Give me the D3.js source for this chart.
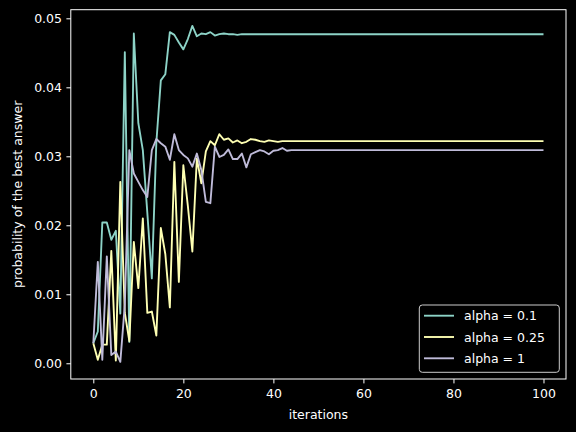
<!DOCTYPE html>
<html>
<head>
	<meta http-equiv="Content-Type" content="text/html;charset=utf-8"/>
	<title>probability of the best answer</title>
	<script src="https://d3js.org/d3.v7.min.js"></script>
	<style type="text/css">
		body { margin: 0; background: black; }
		svg { display: block; background: black; }
		text { font-family: "DejaVu Sans", sans-serif; font-size: 12.5px; fill: white; }
		.spine { stroke: white; stroke-width: 1; fill: none; }
		.tick line { stroke: white; stroke-width: 1; }
		.series { fill: none; stroke-width: 1.875; stroke-linejoin: round; stroke-linecap: butt; }
	</style>
</head>
<body>
	<svg width="576" height="432"></svg>

<script type="text/javascript">
// values, one per iteration 0..100
const alpha01 = [
	0.0029, 0.0046, 0.0204, 0.0204, 0.0179, 0.0192, 0.0072, 0.0451, 0.0031, 0.0478,
	0.0348, 0.0309, 0.0218, 0.0123, 0.0320, 0.0410, 0.0419, 0.0480, 0.0476, 0.0465,
	0.0455, 0.0470, 0.0489, 0.0474, 0.0478, 0.0477, 0.0480, 0.0475, 0.0477, 0.0478,
	0.0477, 0.0477, 0.0476, 0.0477, 0.0477, 0.0477, 0.0477, 0.0477, 0.0477, 0.0477,
	0.0477, 0.0477, 0.0477, 0.0477, 0.0477, 0.0477, 0.0477, 0.0477, 0.0477, 0.0477,
	0.0477, 0.0477, 0.0477, 0.0477, 0.0477, 0.0477, 0.0477, 0.0477, 0.0477, 0.0477,
	0.0477, 0.0477, 0.0477, 0.0477, 0.0477, 0.0477, 0.0477, 0.0477, 0.0477, 0.0477,
	0.0477, 0.0477, 0.0477, 0.0477, 0.0477, 0.0477, 0.0477, 0.0477, 0.0477, 0.0477,
	0.0477, 0.0477, 0.0477, 0.0477, 0.0477, 0.0477, 0.0477, 0.0477, 0.0477, 0.0477,
	0.0477, 0.0477, 0.0477, 0.0477, 0.0477, 0.0477, 0.0477, 0.0477, 0.0477, 0.0477,
	0.0477
];
const alpha025 = [
	0.0029, 0.0005, 0.0027, 0.0027, 0.0163, 0.0004, 0.0263, 0.0073, 0.0032, 0.0176,
	0.0109, 0.0210, 0.0073, 0.0075, 0.0040, 0.0196, 0.0158, 0.0081, 0.0292, 0.0118,
	0.0287, 0.0228, 0.0162, 0.0297, 0.0261, 0.0307, 0.0322, 0.0316, 0.0332, 0.0324,
	0.0326, 0.0320, 0.0323, 0.0319, 0.0321, 0.0325, 0.0324, 0.0322, 0.0321, 0.0323,
	0.0322, 0.0321, 0.0322, 0.0322, 0.0322, 0.0322, 0.0322, 0.0322, 0.0322, 0.0322,
	0.0322, 0.0322, 0.0322, 0.0322, 0.0322, 0.0322, 0.0322, 0.0322, 0.0322, 0.0322,
	0.0322, 0.0322, 0.0322, 0.0322, 0.0322, 0.0322, 0.0322, 0.0322, 0.0322, 0.0322,
	0.0322, 0.0322, 0.0322, 0.0322, 0.0322, 0.0322, 0.0322, 0.0322, 0.0322, 0.0322,
	0.0322, 0.0322, 0.0322, 0.0322, 0.0322, 0.0322, 0.0322, 0.0322, 0.0322, 0.0322,
	0.0322, 0.0322, 0.0322, 0.0322, 0.0322, 0.0322, 0.0322, 0.0322, 0.0322, 0.0322,
	0.0322
];
const alpha1 = [
	0.0029, 0.0147, 0.0005, 0.0155, 0.0012, 0.0017, 0.0002, 0.0085, 0.0309, 0.0275,
	0.0263, 0.0251, 0.0241, 0.0309, 0.0325, 0.0319, 0.0314, 0.0295, 0.0332, 0.0309,
	0.0302, 0.0297, 0.0285, 0.0304, 0.0280, 0.0234, 0.0232, 0.0314, 0.0299, 0.0302,
	0.0310, 0.0296, 0.0296, 0.0304, 0.0284, 0.0303, 0.0306, 0.0309, 0.0307, 0.0303,
	0.0308, 0.0309, 0.0312, 0.0308, 0.0309, 0.0309, 0.0309, 0.0309, 0.0309, 0.0309,
	0.0309, 0.0309, 0.0309, 0.0309, 0.0309, 0.0309, 0.0309, 0.0309, 0.0309, 0.0309,
	0.0309, 0.0309, 0.0309, 0.0309, 0.0309, 0.0309, 0.0309, 0.0309, 0.0309, 0.0309,
	0.0309, 0.0309, 0.0309, 0.0309, 0.0309, 0.0309, 0.0309, 0.0309, 0.0309, 0.0309,
	0.0309, 0.0309, 0.0309, 0.0309, 0.0309, 0.0309, 0.0309, 0.0309, 0.0309, 0.0309,
	0.0309, 0.0309, 0.0309, 0.0309, 0.0309, 0.0309, 0.0309, 0.0309, 0.0309, 0.0309,
	0.0309
];
const seriesNames = ['alpha = 0.1', 'alpha = 0.25', 'alpha = 1'];
const seriesColors = ['#8dd3c7', '#feffb3', '#bfbbd9'];
const xTicks = [0, 20, 40, 60, 80, 100];
const yTicks = [0.00, 0.01, 0.02, 0.03, 0.04, 0.05];

const svg = d3.select('svg');
const plotLeft = 70.8, plotRight = 566, plotTop = 9.7, plotBottom = 379;

const series = [alpha01, alpha025, alpha1].map((vals, k) => ({
	name: seriesNames[k],
	color: seriesColors[k],
	points: vals.map((v, i) => [i, v])
}));

// matplotlib-like 5% margins around the data
const x = d3.scaleLinear().domain([-5, 105]).range([plotLeft, plotRight]);
const y = d3.scaleLinear().domain([-0.00228, 0.05125]).range([plotBottom, plotTop]);

const line = d3.line()
	.x(d => x(d[0]))
	.y(d => y(d[1]));

svg.selectAll('path.series')
	.data(series)
	.enter().append('path')
		.attr('class', 'series')
		.attr('stroke', d => d.color)
		.attr('d', d => line(d.points));

// axes
const xAxis = svg.append('g')
	.attr('transform', `translate(0,${plotBottom})`)
	.call(d3.axisBottom(x).tickValues(xTicks).tickSize(4.4).tickPadding(6));
const yAxis = svg.append('g')
	.attr('transform', `translate(${plotLeft},0)`)
	.call(d3.axisLeft(y).tickValues(yTicks).tickFormat(d3.format('.2f')).tickSize(4.4).tickPadding(4.4));
[xAxis, yAxis].forEach(g => {
	g.select('.domain').remove();
	g.selectAll('text').attr('fill', 'white').style('font-size', '12.5px').style('font-family', '"DejaVu Sans", sans-serif');
});

svg.append('rect')
	.attr('class', 'spine')
	.attr('x', plotLeft).attr('y', plotTop)
	.attr('width', plotRight - plotLeft).attr('height', plotBottom - plotTop);

// labels
svg.append('text')
	.attr('x', (plotLeft + plotRight) / 2).attr('y', 419)
	.attr('text-anchor', 'middle')
	.text('iterations');
svg.append('text')
	.attr('transform', `translate(22,${(plotTop + plotBottom) / 2}) rotate(-90)`)
	.attr('text-anchor', 'middle')
	.text('probability of the best answer');

// legend
const legend = svg.append('g');
legend.append('rect')
	.attr('x', 419.3).attr('y', 305)
	.attr('width', 140).attr('height', 67.3)
	.attr('rx', 3)
	.attr('fill', 'black').attr('fill-opacity', 0.8)
	.attr('stroke', '#cccccc').attr('stroke-width', 1);
const entries = legend.selectAll('g.entry')
	.data(series)
	.enter().append('g')
		.attr('transform', (d, i) => `translate(0,${315.7 + i * 21.3})`);
entries.append('line')
	.attr('x1', 424).attr('x2', 454)
	.attr('stroke', d => d.color)
	.attr('stroke-width', 1.875);
entries.append('text')
	.attr('x', 464).attr('y', 4.5)
	.text(d => d.name);
</script>
</body>
</html>
